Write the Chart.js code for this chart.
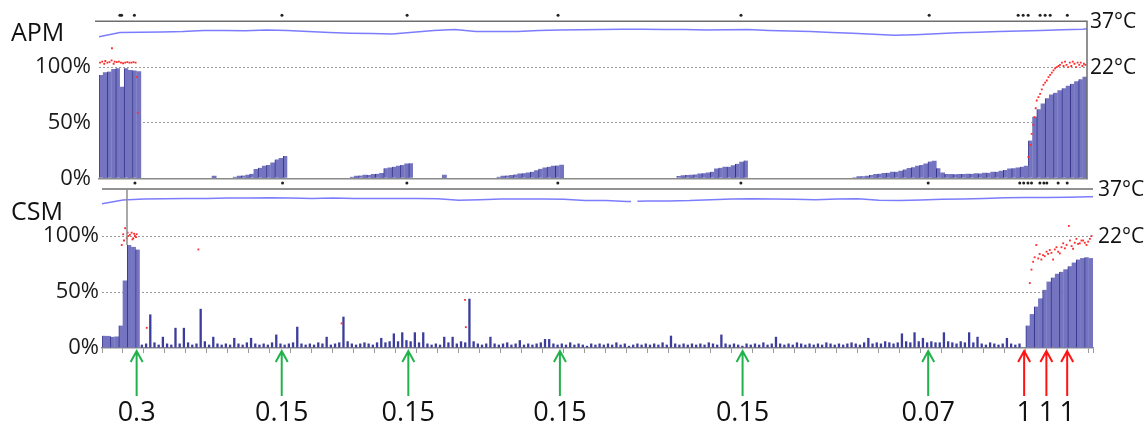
<!DOCTYPE html>
<html>
<head>
<meta charset="utf-8">
<script src="https://cdn.jsdelivr.net/npm/chart.js@4.4.0/dist/chart.umd.min.js"></script>
<style>
  body { margin: 0; background: #fff; }
  #wrap { position: relative; width: 1148px; height: 425px; }
  canvas { position: absolute; left: 0; top: 0; }
</style>
</head>
<body>
<div id="wrap">
  <canvas id="apm" width="1148" height="425"></canvas>
  <canvas id="csm" width="1148" height="425"></canvas>
</div>
<script>
// shared axis values
const BIN = 0.2;
const xMax = 47.2;
const yTicks = [0, 50, 100];
const tempLabels = [37, 22];

// APM bars (% activity), each block starts at a time value and steps by BIN
const apmBlock1Start = 0.1;
const apmBlock1 = [93, 95, 96, 98, 99, 82, 99, 97, 97, 96];
const apmBlipStart = 5.5;
const apmBlip = [2];
const apmBump1Start = 6.5;
const apmBump1 = [1.5, 2, 2.5, 3, 4, 8, 9.5, 11, 12, 14, 17, 18, 20];
const apmBump2Start = 12.1;
const apmBump2 = [1.5, 2, 2.5, 3, 3, 3.5, 4, 4.5, 9, 9.5, 10.5, 11, 12, 13, 13.5];
const apmBlip2Start = 16.5;
const apmBlip2 = [3];
const apmBump3Start = 19.1;
const apmBump3 = [1.5, 2, 2.5, 2.7, 3.5, 4, 4.5, 5, 6, 7, 8.5, 9.5, 10.5, 11, 11.5, 12];
const apmBump4Start = 27.7;
const apmBump4 = [2, 2.5, 3, 3, 3.5, 4, 4.5, 5, 6, 8.5, 9.5, 10, 10.5, 11.5, 13, 14.5, 16];
const apmBump5Start = 36.1;
const apmBump5 = [1, 1.5, 1.8, 2, 3, 3.5, 4.2, 4.5, 5, 5.5, 6, 6.5, 8, 9, 10, 11, 12, 13, 15, 15.5,
  9, 5, 3.8, 3.6, 3.6, 3.6, 3.8, 3.7, 4, 4.2, 4.4, 4.6, 5, 5.5, 6, 6.5, 7.5, 8.5, 9, 9.5, 10.5, 11];
const apmRampStart = 44.5;
const apmRamp = [34, 55, 62, 67, 72, 75, 77, 79, 81, 83, 85, 87, 89, 91];

// APM red points [time, %]
const apmRed = [[0.05,104],[0.15,105],[0.25,103],[0.3,105.5],[0.4,104],[0.5,104.5],[0.6,106],[0.62,117],
  [0.7,103],[0.75,105],[0.85,104.5],[0.95,105],[1.05,104],[1.15,103.5],[1.25,104],[1.35,104.5],[1.45,104],
  [1.55,104],[1.65,104.5],[1.75,104],[1.8,91],[1.85,59],
  [44.4,19],[44.5,30],[44.56,40],[44.63,48],[44.69,55],[44.75,63],[44.8,70],[44.88,73],[44.96,76],[45.04,80],
  [45.12,84],[45.2,86],[45.28,88],[45.36,91],[45.44,93],[45.52,95],[45.6,97],[45.68,99],[45.76,100],[45.84,101],
  [45.91,102],[46.0,104],[46.08,101],[46.15,105],[46.22,102],[46.3,100],[46.38,104],[46.45,101],[46.52,105],
  [46.6,103],[46.68,100],[46.75,104],[46.83,102],[46.9,104],[46.98,101],[47.05,103],[47.12,102]];

// APM temperature (°C), one reading per time unit
const apmTemp = [31.9, 33.3, 33.4, 33.5, 33.6, 34.0, 34.0, 33.9, 34.1, 34.0, 33.6, 33.3, 33.1, 33.0, 32.8, 33.4,
  34.0, 34.3, 33.6, 33.6, 33.6, 34.0, 34.1, 34.2, 34.3, 34.4, 34.4, 34.3, 34.3, 34.1, 34.2, 34.3, 34.0, 33.8,
  33.6, 33.3, 33.1, 32.7, 32.4, 32.6, 32.9, 33.2, 33.4, 33.6, 33.8, 34.0, 34.2, 34.4, 34.5];

// APM marks above the frame
const apmDots = [1.0, 1.08, 1.69, 8.74, 14.72, 21.93, 30.67, 39.66, 43.91, 44.15, 44.39, 44.96, 45.2, 45.44, 46.26];

// CSM bars
const csmBlockStart = 0.1;
const csmBlock = [11, 10.5, 10, 10, 20, 60, 92, 90, 88];
const csmNoiseStart = 1.9;
const csmNoise = [
  3, 4, 30, 5, 3, 10, 4, 3, 18, 4,
  18, 5, 3, 4, 35, 6, 3, 10, 4, 3,
  4, 3, 9, 4, 3, 5, 9, 4, 3, 4,
  3, 5, 12, 4, 3, 4, 5, 19, 4, 3,
  4, 3, 5, 4, 10, 3, 4, 5, 28, 6,
  4, 3, 4, 5, 4, 3, 5, 9, 5, 6,
  13, 6, 14, 7, 6, 14, 5, 14, 4, 3,
  4, 3, 10, 5, 10, 4, 6, 5, 44, 6,
  4, 3, 4, 10, 4, 3, 4, 5, 3, 4,
  7, 3, 4, 3, 4, 5, 8, 8, 4, 3,
  4, 3, 5, 3, 4, 3, 2, 4, 3, 4,
  3, 4, 3, 5, 3, 4, 2, 3, 4, 3,
  4, 3, 4, 3, 5, 3, 11, 4, 3, 4,
  3, 4, 3, 4, 3, 5, 4, 3, 12, 4,
  3, 4, 3, 2, 4, 3, 4, 3, 5, 3,
  4, 10, 4, 3, 4, 3, 5, 4, 3, 4,
  3, 4, 3, 5, 4, 3, 4, 3, 4, 5,
  4, 3, 5, 9, 4, 5, 4, 6, 5, 4,
  5, 13, 6, 5, 14, 6, 9, 5, 6, 5,
  5, 14, 6, 5, 4, 6, 5, 14, 5, 10,
  4, 3, 5, 4, 3, 4, 9, 4, 3, 4];
const csmRampStart = 44.1;
const csmRamp = [20, 30, 37, 44, 52, 59, 63, 66, 68, 70, 73, 76, 79, 80, 81, 80];

// CSM red points [time, %]
const csmRed = [[0.94,92],[1.01,101.6],[1.05,96],[1.1,107],[1.18,98],[1.22,103],[1.25,100],[1.33,101],
  [1.41,103],[1.45,97],[1.49,98],[1.53,102],[1.57,100],[1.62,99],[1.65,101.6],
  [2.13,18],[4.59,88],[11.41,22],[17.29,43],[17.33,18.6],
  [44.19,58],[44.27,70],[44.35,77],[44.42,81],[44.5,92],[44.59,80],[44.66,84],[44.74,79],[44.82,83],[44.9,82],
  [44.99,86],[45.06,84],[45.14,87.5],[45.22,85],[45.3,79],[45.38,88],[45.46,90],[45.54,86],[45.62,84.5],
  [45.7,90],[45.78,93.5],[45.86,89],[45.94,92],[46.05,109],[46.1,96],[46.18,91],[46.25,88.6],[46.33,94],
  [46.41,97.5],[46.49,93],[46.57,93.5],[46.65,96],[46.73,96],[46.81,94],[46.89,92],[46.97,95],[47.05,97.5],[47.13,100]];

// CSM temperature (°C), one reading per time unit; logger gap between 25.2 and 25.5
const csmTemp = [32.3, 33.5, 33.8, 33.9, 34.0, 34.0, 34.1, 34.1, 34.2, 34.1, 34.0, 34.1, 34.0, 34.0, 34.0, 34.0,
  33.9, 33.4, 33.6, 33.8, 33.8, 33.8, 33.7, 33.3, 33.3, 33.0, 33.2, 33.2, 33.3, 33.6, 33.8, 33.9, 33.8, 33.7,
  33.6, 33.8, 33.9, 33.4, 33.3, 33.5, 33.7, 33.8, 34.0, 34.2, 34.3, 34.3, 34.4, 34.5, 34.5];
const csmGapEdges = [[25.2, 33.0], [25.5, 33.1]];

const csmDots = [1.57, 8.6, 14.52, 21.71, 30.43, 39.35, 43.71, 43.9, 44.1, 44.27, 44.67, 44.86, 45.0, 45.54, 45.97];
const csmMarkLine = 1.19;

// injections (dose) under the CSM axis
const greenArrowX = [1.65, 8.56, 14.59, 21.81, 30.51, 39.35];
const greenLabels = ['0.3', '0.15', '0.15', '0.15', '0.15', '0.07'];
const redArrowX = [43.92, 44.98, 45.97];
const redLabels = ['1', '1', '1'];

const FILL = '#7474c0';
const STRIPE = '#33338c';
const NOISE = '#3c3c9c';
const TEMP = '#7c7cff';
const RED = '#ff2b2b';

function bins(start, vals) {
  return vals.map((v, i) => ({ x: Math.round((start + i * BIN) * 100) / 100, y: v }));
}
function pts(list) {
  return list.map(p => ({ x: p[0], y: p[1] }));
}
function tempPts(vals, gapEdges) {
  const out = vals.map((v, i) => ({ x: Math.min(i, xMax), y: v }));
  if (gapEdges) {
    const k = out.findIndex(p => p.x > gapEdges[0][0]);
    out.splice(k, 0, { x: gapEdges[0][0], y: gapEdges[0][1] }, { x: (gapEdges[0][0] + gapEdges[1][0]) / 2, y: null },
      { x: gapEdges[1][0], y: gapEdges[1][1] });
  }
  return out;
}

const stripe = (ctx) => (ctx.dataIndex % 2 === 0 ? { left: 1, right: 0, top: 0, bottom: 0 } : 0);

function barSet(data, color, pct, striped) {
  return {
    type: 'bar', data: data, yAxisID: 'y',
    backgroundColor: color, borderColor: STRIPE,
    borderWidth: striped ? stripe : 0,
    barPercentage: pct, categoryPercentage: 1, grouped: false
  };
}

const decor = {
  id: 'decor',
  afterDraw(chart, args, o) {
    const ctx = chart.ctx, a = chart.chartArea;
    const xs = chart.scales.x, ys = chart.scales.y, ts = chart.scales.t;
    ctx.save();
    // frame top (and right for APM)
    ctx.strokeStyle = '#6e6e6e';
    ctx.lineWidth = 1.5;
    ctx.beginPath();
    ctx.moveTo(a.left - o.frameIn, a.top);
    ctx.lineTo(a.right, a.top);
    if (o.rightBorder) ctx.lineTo(a.right, a.bottom);
    ctx.stroke();

    // marks above frame
    ctx.fillStyle = '#222';
    o.dots.forEach(v => {
      ctx.beginPath();
      ctx.arc(xs.getPixelForValue(v), a.top - 6, 1.5, 0, Math.PI * 2);
      ctx.fill();
    });

    // grey marker line
    if (o.markLine != null) {
      const x = xs.getPixelForValue(o.markLine);
      ctx.strokeStyle = '#8c8c8c';
      ctx.lineWidth = 1.5;
      ctx.beginPath();
      ctx.moveTo(x, a.top);
      ctx.lineTo(x, ys.getPixelForValue(92));
      ctx.stroke();
    }

    // panel name
    ctx.fillStyle = '#111';
    ctx.textBaseline = 'alphabetic';
    ctx.textAlign = 'left';
    ctx.font = '25px "Open Sans"';
    ctx.fillText(o.name, 11, o.nameY);

    // temperature labels on the right
    ctx.font = '21px "Open Sans"';
    tempLabels.forEach(t => {
      ctx.fillText(t + '°C', a.right + o.tempDx, ts.getPixelForValue(t) + 7);
    });

    // dose arrows
    if (o.arrows) {
      const drawArrows = (xsVals, labels, color) => {
        xsVals.forEach((v, i) => {
          const x = xs.getPixelForValue(v);
          const tip = a.bottom + 3, tail = a.bottom + 48;
          ctx.strokeStyle = color;
          ctx.lineWidth = 2;
          ctx.beginPath();
          ctx.moveTo(x, tail);
          ctx.lineTo(x, tip);
          ctx.moveTo(x - 6, tip + 11);
          ctx.lineTo(x, tip);
          ctx.lineTo(x + 6, tip + 11);
          ctx.stroke();
          ctx.fillStyle = '#111';
          ctx.textAlign = 'center';
          ctx.font = '27px "Open Sans"';
          ctx.fillText(labels[i], x, 421);
        });
      };
      drawArrows(greenArrowX, greenLabels, '#22b24c');
      drawArrows(redArrowX, redLabels, '#ff1414');
    }
    ctx.restore();
  }
};

function makeChart(id, cfg) {
  const tMin = 22 - 100 * (37 - 22) / (cfg.pctMax - 100);
  return new Chart(document.getElementById(id), {
    data: { datasets: cfg.datasets },
    options: {
      responsive: false,
      animation: false,
      devicePixelRatio: 1,
      layout: { padding: { top: cfg.top, right: cfg.right, left: 0, bottom: 0 } },
      plugins: { legend: { display: false }, tooltip: { enabled: false }, decor: cfg.decor },
      scales: {
        x: {
          type: 'linear', min: 0, max: xMax, offset: false,
          afterBuildTicks: s => {
            const t = [];
            for (let v = 0; v < xMax; v++) t.push({ value: v });
            t.push({ value: xMax });
            s.ticks = t;
          },
          ticks: { display: false },
          grid: { display: cfg.xTicks, offset: false, drawOnChartArea: false, drawTicks: true, tickLength: 5, color: '#9a9a9a', lineWidth: 1 },
          border: { display: true, color: '#8a8a8a', width: 1.5 },
          afterFit: s => { s.height = 425 - cfg.bottom; }
        },
        y: {
          min: 0, max: cfg.pctMax,
          afterBuildTicks: s => { s.ticks = yTicks.map(v => ({ value: v })); },
          ticks: { callback: v => v + '%', color: '#1a1a1a', padding: cfg.tickPad, font: { family: 'Open Sans', size: 22 } },
          grid: { drawTicks: false, color: c => (c.tick && c.tick.value === 0 ? 'rgba(0,0,0,0)' : '#9a9a9a'), lineWidth: 1 },
          border: { display: false, dash: [2, 2] },
          afterFit: s => { s.width = cfg.left; }
        },
        t: { position: 'right', display: false, min: tMin, max: 37 }
      }
    },
    plugins: [decor]
  });
}

const redStyle = (data) => ({
  type: 'scatter', data: data, yAxisID: 'y', pointStyle: 'rect', pointRadius: 1.3,
  backgroundColor: RED, borderWidth: 0
});
const tempStyle = (data) => ({
  type: 'line', data: data, yAxisID: 't', borderColor: TEMP, borderWidth: 1.5,
  pointRadius: 0, tension: 0, spanGaps: false
});

makeChart('apm', {
  pctMax: 141.3, top: 21, bottom: 178.3, left: 99, right: 61, tickPad: 8, xTicks: false,
  decor: { name: 'APM', nameY: 41, frameIn: 4, rightBorder: true, tempDx: 3, dots: apmDots, arrows: false },
  datasets: [
    redStyle(pts(apmRed)),
    tempStyle(tempPts(apmTemp)),
    barSet(bins(apmBlock1Start, apmBlock1), FILL, 1, true),
    barSet(bins(apmBlipStart, apmBlip), FILL, 1, false),
    barSet(bins(apmBump1Start, apmBump1), FILL, 1, true),
    barSet(bins(apmBump2Start, apmBump2), FILL, 1, true),
    barSet(bins(apmBlip2Start, apmBlip2), FILL, 1, false),
    barSet(bins(apmBump3Start, apmBump3), FILL, 1, true),
    barSet(bins(apmBump4Start, apmBump4), FILL, 1, true),
    barSet(bins(apmBump5Start, apmBump5), FILL, 1, true),
    barSet(bins(apmRampStart, apmRamp), FILL, 1, true)
  ]
});

makeChart('csm', {
  pctMax: 142, top: 189, bottom: 348, left: 102, right: 55, tickPad: 3, xTicks: true,
  decor: { name: 'CSM', nameY: 220, frameIn: 0, rightBorder: false, tempDx: 5, dots: csmDots, markLine: csmMarkLine, arrows: true },
  datasets: [
    redStyle(pts(csmRed)),
    tempStyle(tempPts(csmTemp, csmGapEdges)),
    barSet(bins(csmBlockStart, csmBlock), FILL, 1, true),
    barSet(bins(csmNoiseStart, csmNoise), NOISE, 0.55, false),
    barSet(bins(csmRampStart, csmRamp), FILL, 1, true)
  ]
});
</script>
</body>
</html>
